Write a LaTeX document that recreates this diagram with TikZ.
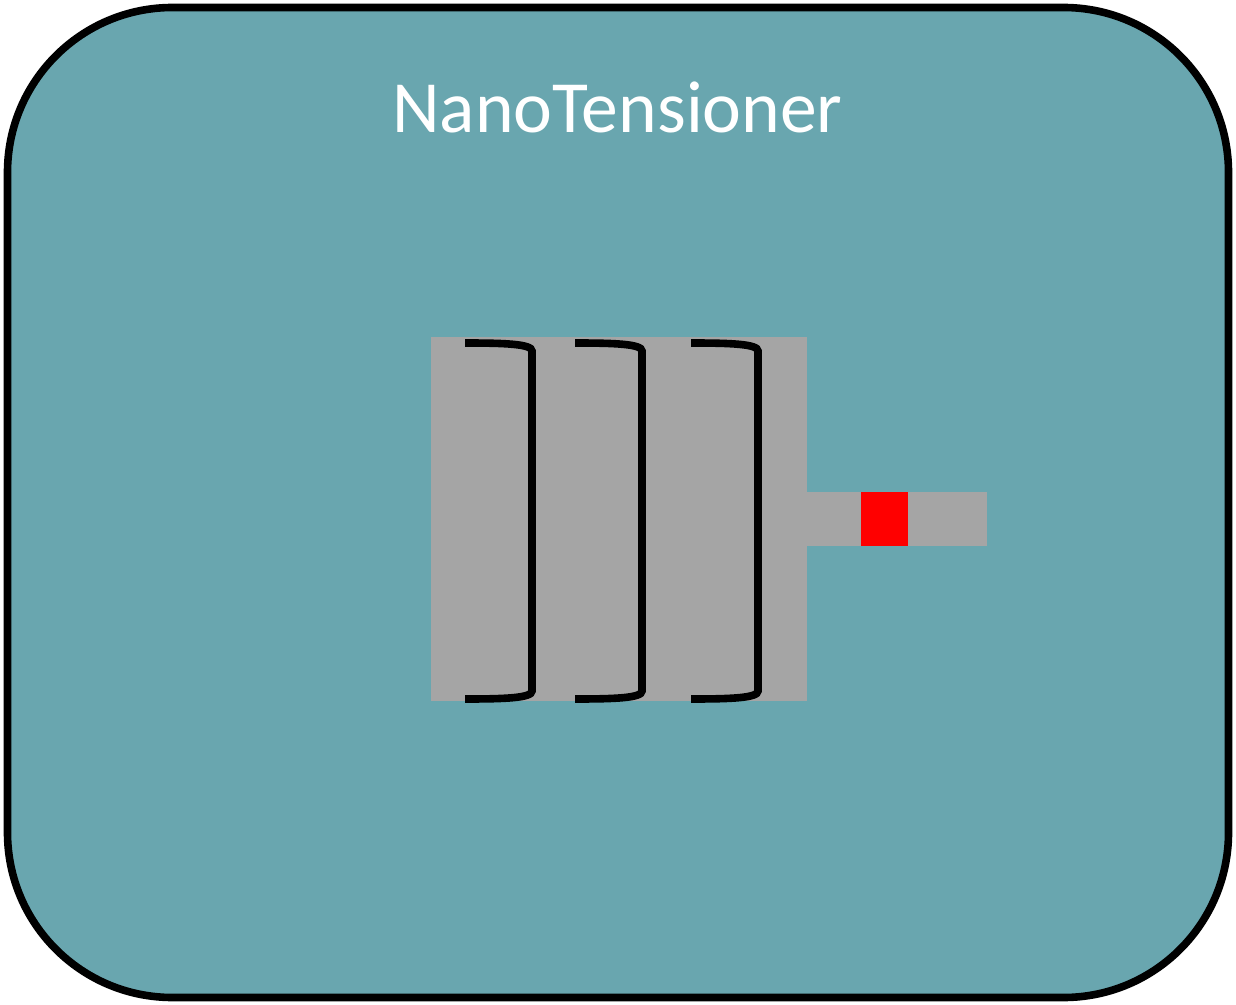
\documentclass[tikz,border=0pt]{standalone}
\usepackage{fontspec}
\setmainfont{Carlito}
\usepackage{tikz}
\definecolor{tealbg}{HTML}{69A6AF}
\definecolor{slabgray}{HTML}{A5A5A5}

\begin{document}
\begin{tikzpicture}[x=0.5pt, y=-0.5pt,
    frame/.style={draw=black, line width=3.8pt, fill=tealbg, rounded corners=82.5pt},
    slab/.style={fill=slabgray},
    marker/.style={fill=red},
    bracket/.style={draw=black, line width=3.8pt},
    title/.style={text=white, font=\fontsize{36.8}{40}\selectfont, anchor=base, inner sep=0pt},
  ]
  \useasboundingbox (0,0) rectangle (1236,1005);
  \draw[frame] (7.5,7.5) rectangle (1228.5,997.5);
  \node[title] (name) at (617.5,133) {NanoTensioner};

  % tensioner body and its probe
  \fill[slab] (431,337) rectangle (807,701);
  \fill[slab] (807,492) rectangle (987,546);
  \fill[marker] (861,492) rectangle (908,546);

  % springs
  \foreach \s in {465,575,691}
    \draw[bracket] (\s,343) .. controls (\s+40,343) and (\s+67,344) .. (\s+67,351)
      -- (\s+67,691) .. controls (\s+67,698) and (\s+40,699) .. (\s,699);
\end{tikzpicture}
\end{document}
